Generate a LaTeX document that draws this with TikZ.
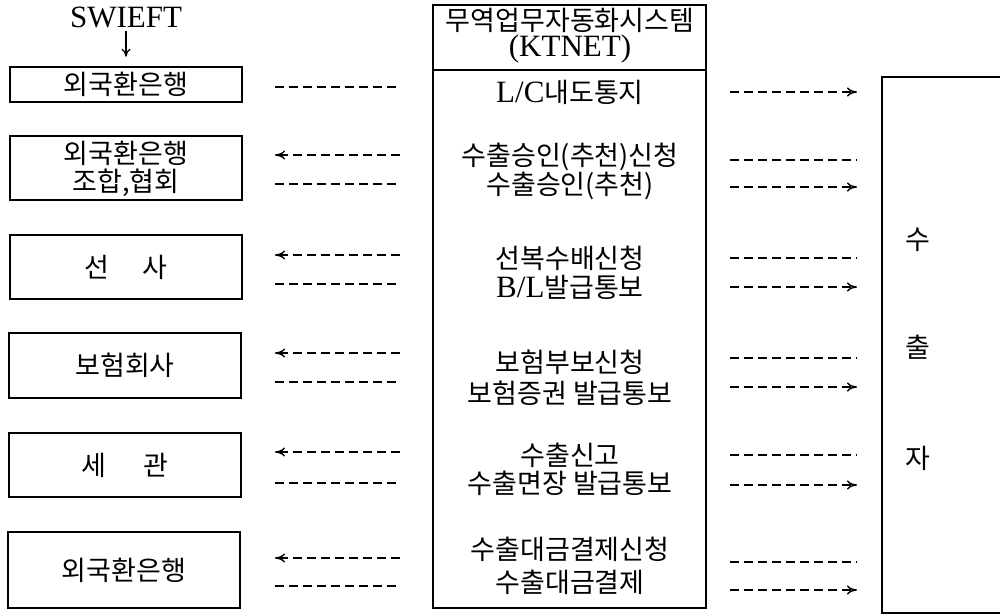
\documentclass[tikz,border=0pt]{standalone}
\usepackage{fontspec}
\setmainfont{Liberation Serif}
\newfontfamily\kr{Noto Sans CJK KR}
\newcommand{\krs}{\kr\fontsize{27}{31}\selectfont}
\usetikzlibrary{arrows.meta}
\begin{document}
\begin{tikzpicture}[x=1pt,y=-1pt,
  box/.style={draw, line width=1.3pt, inner sep=0pt},
  kt/.style={inner sep=0pt, font=\krs},
  lt/.style={inner sep=0pt, font=\fontsize{31}{35}\selectfont},
  dl/.style={line width=1.4pt, dash pattern=on 9pt off 5pt},
  arr/.style={dl, -{To[length=10pt,width=9pt]}}]
\useasboundingbox (0,0) rectangle (1000,615);
% left boxes
\node[lt] (swift) at (126,17) {SWIEFT};
\node[box, minimum width=232pt, minimum height=35pt] (b1) at (126,84.5) {};
\node[kt] at (b1) {외국환은행};
\node[box, minimum width=232pt, minimum height=64pt] (b2) at (126,168) {};
\node[kt] at (126,153) {외국환은행};
\node[kt] at (126,183) {조합,협회};
\node[box, minimum width=232pt, minimum height=64pt] (b3) at (126,267) {};
\node[kt] at (b3) {선\hspace{33pt}사};
\node[box, minimum width=232pt, minimum height=65pt] (b4) at (125,365.5) {};
\node[kt] at (b4) {보험회사};
\node[box, minimum width=232pt, minimum height=64pt] (b5) at (125,465) {};
\node[kt] at (b5) {세\hspace{38pt}관};
\node[box, minimum width=232pt, minimum height=76pt] (b6) at (124,570) {};
\node[kt] at (b6) {외국환은행};
\draw[line width=1.3pt, -{To[length=8pt,width=9pt]}] (swift.south) ++(0,3) coordinate (s0) -- ++(0,26) coordinate (s1);
% middle system box
\node[box, minimum width=273pt, minimum height=603pt] (sys) at (569.5,306.5) {};
\draw[line width=1.3pt] (433,70) coordinate (h0) -- (706,70) coordinate (h1);
\node[kt] at (570,20) {무역업무자동화시스템};
\node[lt] at (570,49) {(KTNET)};
\node[lt] at (570,92) {L/C{\krs 내도통지}};
\node[kt] at (570,157) {수출승인(추천)신청};
\node[kt] at (570,186) {수출승인(추천)};
\node[kt] at (570,258) {선복수배신청};
\node[lt] at (570,287) {B/L{\krs 발급통보}};
\node[kt] at (570,362) {보험부보신청};
\node[kt] at (570,393) {보험증권 발급통보};
\node[kt] at (570,455) {수출신고};
\node[kt] at (570,483) {수출면장 발급통보};
\node[kt] at (570,549) {수출대금결제신청};
\node[kt] at (570,582) {수출대금결제};
% exporter box
\node[box, minimum width=123pt, minimum height=536pt] (exp) at (943.5,345) {};
\node[kt] at (918,240) {수};
\node[kt] at (918,347) {출};
\node[kt] at (918,458) {자};
% left dashed lines
\coordinate (La1) at (275,87);  \coordinate (Lb1) at (400,87);
\coordinate (La2) at (275,155); \coordinate (Lb2) at (400,155);
\coordinate (La3) at (275,184); \coordinate (Lb3) at (400,184);
\coordinate (La4) at (275,255); \coordinate (Lb4) at (400,255);
\coordinate (La5) at (275,284); \coordinate (Lb5) at (400,284);
\coordinate (La6) at (275,353); \coordinate (Lb6) at (400,353);
\coordinate (La7) at (275,382); \coordinate (Lb7) at (400,382);
\coordinate (La8) at (275,452); \coordinate (Lb8) at (400,452);
\coordinate (La9) at (275,483); \coordinate (Lb9) at (400,483);
\coordinate (La10) at (275,558); \coordinate (Lb10) at (400,558);
\coordinate (La11) at (275,586); \coordinate (Lb11) at (400,586);
\draw[dl] (La1) -- (Lb1);
\draw[arr] (Lb2) -- (La2);
\draw[dl] (La3) -- (Lb3);
\draw[arr] (Lb4) -- (La4);
\draw[dl] (La5) -- (Lb5);
\draw[arr] (Lb6) -- (La6);
\draw[dl] (La7) -- (Lb7);
\draw[arr] (Lb8) -- (La8);
\draw[dl] (La9) -- (Lb9);
\draw[arr] (Lb10) -- (La10);
\draw[dl] (La11) -- (Lb11);
% right dashed lines
\coordinate (Ra1) at (730,92);  \coordinate (Rb1) at (857,92);
\coordinate (Ra2) at (730,160); \coordinate (Rb2) at (857,160);
\coordinate (Ra3) at (730,187); \coordinate (Rb3) at (857,187);
\coordinate (Ra4) at (730,258); \coordinate (Rb4) at (857,258);
\coordinate (Ra5) at (730,287); \coordinate (Rb5) at (857,287);
\coordinate (Ra6) at (730,358); \coordinate (Rb6) at (857,358);
\coordinate (Ra7) at (730,387); \coordinate (Rb7) at (857,387);
\coordinate (Ra8) at (730,455); \coordinate (Rb8) at (857,455);
\coordinate (Ra9) at (730,485); \coordinate (Rb9) at (857,485);
\coordinate (Ra10) at (730,562); \coordinate (Rb10) at (857,562);
\coordinate (Ra11) at (730,590); \coordinate (Rb11) at (857,590);
\draw[arr] (Ra1) -- (Rb1);
\draw[dl] (Ra2) -- (Rb2);
\draw[arr] (Ra3) -- (Rb3);
\draw[dl] (Ra4) -- (Rb4);
\draw[arr] (Ra5) -- (Rb5);
\draw[dl] (Ra6) -- (Rb6);
\draw[arr] (Ra7) -- (Rb7);
\draw[dl] (Ra8) -- (Rb8);
\draw[arr] (Ra9) -- (Rb9);
\draw[dl] (Ra10) -- (Rb10);
\draw[arr] (Ra11) -- (Rb11);
\end{tikzpicture}
\end{document}
